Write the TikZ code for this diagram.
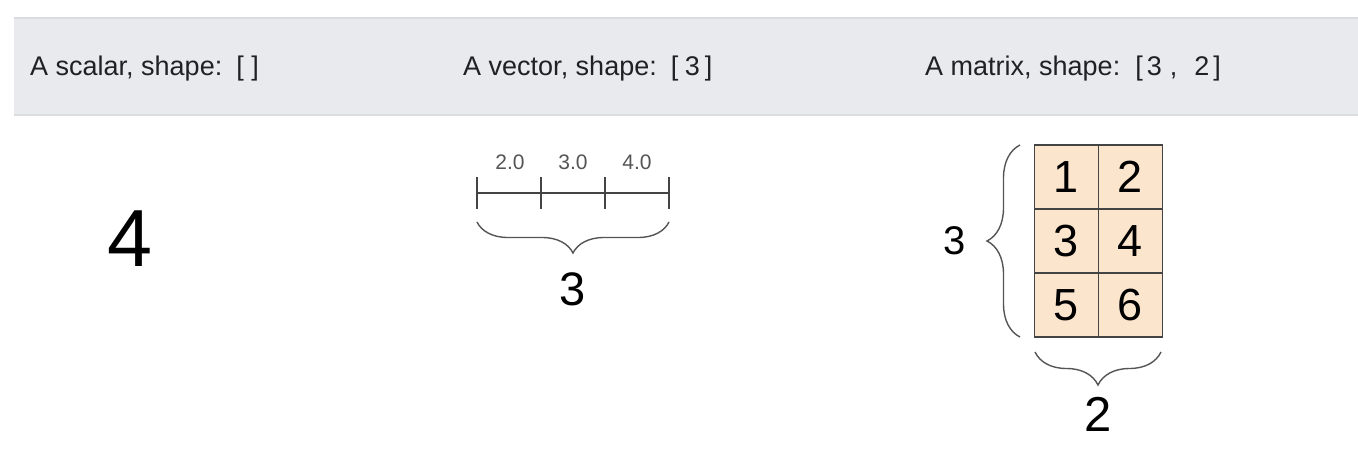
\documentclass[tikz,border=0pt]{standalone}
\usepackage{fontspec}
\setmainfont{Liberation Sans}
\usetikzlibrary{decorations.pathreplacing}
\definecolor{hdrfill}{HTML}{E8EAED}
\definecolor{hdrline}{HTML}{DADCE0}
\definecolor{hdrtext}{HTML}{202124}
\definecolor{cellfill}{HTML}{FCE5CD}
\definecolor{ink}{HTML}{444444}
\definecolor{braceink}{HTML}{555555}
\tikzset{
  hdr/.style={anchor=base west, text=hdrtext, font=\fontsize{27}{32}\selectfont, inner sep=0pt},
  cell/.style={draw=ink, line width=1.3pt, fill=cellfill, minimum width=64pt, minimum height=64pt, inner sep=0pt, font=\fontsize{45}{50}\selectfont},
  tick/.style={draw=ink, line width=1.4pt},
  vlabel/.style={text=braceink, font=\fontsize{21}{24}\selectfont, inner sep=0pt},
  bigdigit/.style={inner sep=0pt, text=black},
  bracepath/.style={draw=braceink, line width=1.4pt, decorate, decoration={brace, amplitude=#1}},
}
\begin{document}
\begin{tikzpicture}[x=1pt, y=-1pt]
\useasboundingbox (0,0) rectangle (1358,450);
% header band
\fill[white] (0,0) rectangle (1358,450);
\fill[hdrfill] (14,18) rectangle (1358,115);
\draw[hdrline, line width=1.5pt] (14,18) -- (1358,18);
\draw[hdrline, line width=1.5pt] (14,115) -- (1358,115);
\node[hdr] (h1) at (30,75.5) {A scalar, shape:\hspace{14pt}[\hspace{7.5pt}]};
\node[hdr] (h2) at (463,75.5) {A vector, shape:\hspace{14pt}[\hspace{6.5pt}3\hspace{5pt}]};
\node[hdr] (h3) at (925,75.5) {A matrix, shape:\hspace{15pt}[\hspace{4pt}3\hspace{8pt},\hspace{17pt}2\hspace{4pt}]};
% scalar
\node[bigdigit, font=\fontsize{81}{90}\selectfont] (s4) at (130,239) {4};
% vector
\coordinate (t0) at (477,193);
\coordinate (t1) at (541,193);
\coordinate (t2) at (605,193);
\coordinate (t3) at (669,193);
\draw[tick] (t0) -- (t3);
\foreach \t in {t0,t1,t2,t3}{\draw[tick] ([yshift=-16pt]\t.center) -- ([yshift=16pt]\t.center);}
\node[vlabel] (v1) at (510,162) {2.0};
\node[vlabel] (v2) at (573,162) {3.0};
\node[vlabel] (v3) at (637,162) {4.0};
\coordinate (vbA) at (669,222);
\coordinate (vbB) at (477,222);
\draw[bracepath=31pt] (vbA) -- (vbB);
\node[bigdigit, font=\fontsize{47}{52}\selectfont] (v3n) at (573,289) {3};
% matrix
\node[cell] (m11) at (1066.5,177) {1};
\node[cell] (m12) at (1130.5,177) {2};
\node[cell] (m21) at (1066.5,241) {3};
\node[cell] (m22) at (1130.5,241) {4};
\node[cell] (m31) at (1066.5,305) {5};
\node[cell] (m32) at (1130.5,305) {6};
\coordinate (lbA) at (1020,337);
\coordinate (lbB) at (1020,145);
\draw[bracepath=33pt] (lbA) -- (lbB);
\node[bigdigit, font=\fontsize{40}{44}\selectfont] (mrows) at (955,241) {3};
\coordinate (bbA) at (1161,352);
\coordinate (bbB) at (1035,352);
\draw[bracepath=33pt] (bbA) -- (bbB);
\node[bigdigit, font=\fontsize{49}{54}\selectfont] (mcols) at (1098,414) {2};
\end{tikzpicture}
\end{document}
